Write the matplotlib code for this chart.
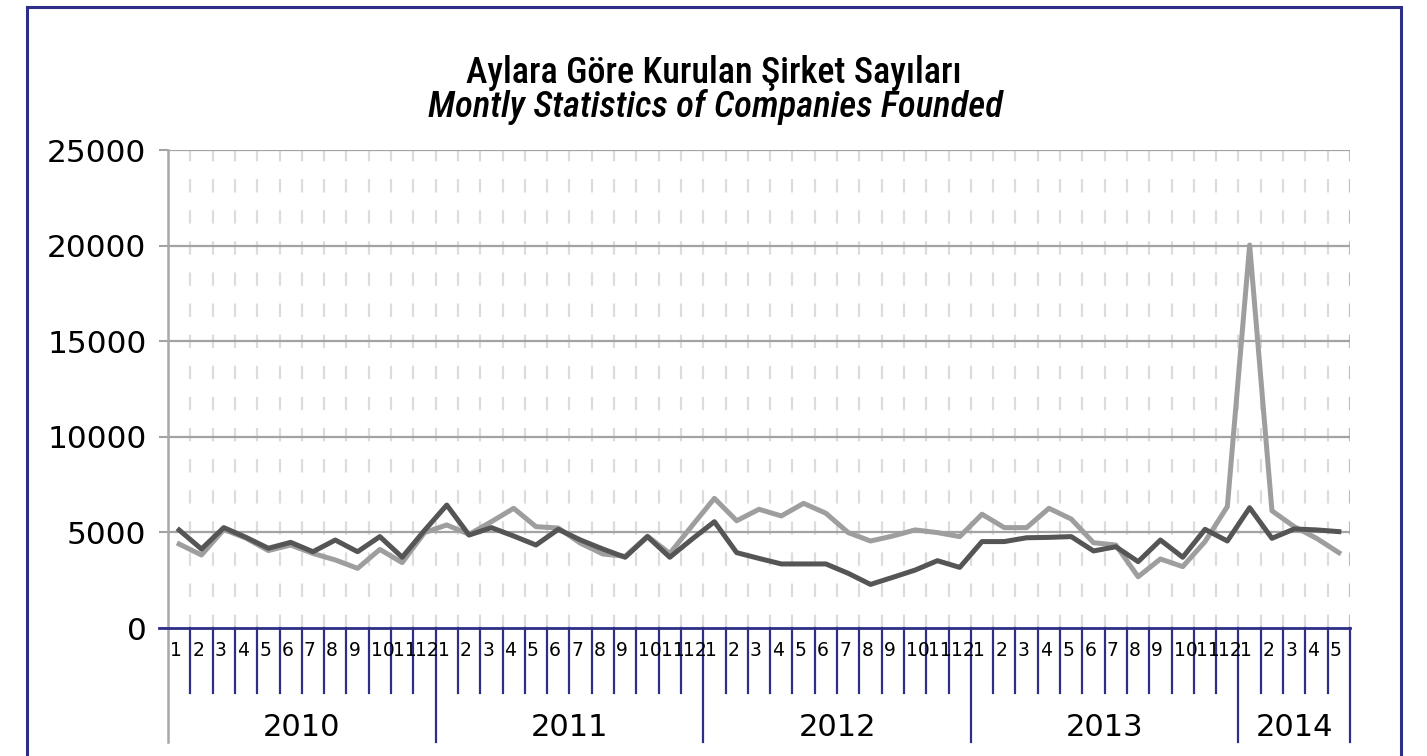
#!/usr/bin/env python3
"""Monthly count of companies founded, 2010 - 2014/5."""
import matplotlib
matplotlib.use("Agg")
import matplotlib.pyplot as plt
import matplotlib.transforms as mtransforms
from matplotlib import font_manager
from matplotlib.patches import Rectangle

years = ["2010", "2011", "2012", "2013", "2014"]
months_per_year = [12, 12, 12, 12, 5]
month_labels = [str(m) for n in months_per_year for m in range(1, n + 1)]

# light grey series
series_light = [
    4390, 3820, 5150, 4700, 4050, 4340, 3900, 3560, 3120, 4110, 3420, 4990,
    5390, 4900, 5560, 6260, 5300, 5230, 4430, 3870, 3750, 4800, 3900, 5350,
    6780, 5610, 6210, 5860, 6520, 6000, 4990, 4550, 4810, 5130, 4990, 4780,
    5950, 5250, 5250, 6260, 5700, 4460, 4340, 2680, 3610, 3210, 4520, 6350,
    20030, 6130, 5300, 4690, 3940,
]
# dark grey series
series_dark = [
    5125, 4130, 5250, 4740, 4170, 4480, 3990, 4600, 3990, 4780, 3700, 5100,
    6430, 4860, 5250, 4810, 4340, 5160, 4600, 4130, 3700, 4780, 3700, 4650,
    5560, 3940, 3640, 3350, 3350, 3350, 2860, 2280, 2650, 3030, 3520, 3170,
    4520, 4520, 4720, 4740, 4780, 4030, 4250, 3470, 4600, 3700, 5160, 4550,
    6290, 4690, 5180, 5130, 5040,
]
yticks = [0, 5000, 10000, 15000, 20000, 25000]

NAVY = "#2e2e88"
names = {f.name for f in font_manager.fontManager.ttflist}
title_font = next((n for n in ["Liberation Sans Narrow", "DejaVu Sans Condensed",
                               "Roboto Condensed", "Open Sans Condensed"]
                   if n in names), "DejaVu Sans")
plt.rcParams["font.family"] = ["DejaVu Sans"]


def main():
    W, H = 1427, 756
    fig = plt.figure(figsize=(W / 100, H / 100), dpi=100)
    x0, x1, ytop, ybot = 168, 1350, 150, 628
    ax = fig.add_axes([x0 / W, (H - ybot) / H, (x1 - x0) / W, (ybot - ytop) / H])
    n = len(month_labels)
    xs = [i + 0.5 for i in range(n)]

    ax.set_xlim(0, n)
    ax.set_ylim(0, 25000)
    for s in ["top", "right", "bottom", "left"]:
        ax.spines[s].set_visible(False)

    # grid
    for b in range(1, n + 1):
        ax.axvline(b, color="#bdbdbd" if b == n else "#dcdcdc", lw=1.6,
                   dashes=(6, 8), zorder=1)
    for y in yticks[1:]:
        ax.axhline(y, color="#a3a3a3", lw=1.6, zorder=1)

    ax.plot(xs, series_light, color="#9e9e9e", lw=3.6, zorder=3)
    ax.plot(xs, series_dark, color="#555555", lw=3.6, zorder=4)

    ax.set_yticks(yticks)
    ax.set_yticklabels([str(v) for v in yticks])
    ax.tick_params(axis="y", length=6.5, width=1.5, color="#a3a3a3", pad=9, labelsize=22.5)
    ax.set_xticks([])

    tr = mtransforms.blended_transform_factory(ax.transData, ax.transAxes)
    ah = ybot - ytop
    kw = dict(transform=tr, clip_on=False)

    # left axis line, running through the label band
    ax.plot([0, 0], [1, -114 / ah], color="#a8a8a8", lw=1.8, zorder=5, **kw)
    # zero line
    ax.plot([-9 / (x1 - x0) * n, n], [0, 0], color=NAVY, lw=2, zorder=5, **kw)

    # month ticks and labels
    bounds = [0]
    for c in months_per_year:
        bounds.append(bounds[-1] + c)
    for b in range(1, n + 1):
        depth = 114 if b in bounds else 65
        ax.plot([b, b], [0, -depth / ah], color=NAVY, lw=1.6, **kw)
    for i, lab in enumerate(month_labels):
        ax.text(i + 0.09, -22 / ah, lab, ha="left", va="center", fontsize=13.5, **kw)
    for yr, a, b in zip(years, bounds[:-1], bounds[1:]):
        ax.text((a + b) / 2, -100 / ah, yr, ha="center", va="center", fontsize=22, **kw)

    fig.text(714 / W, (H - 83) / H, "Aylara Göre Kurulan Şirket Sayıları",
             ha="center", va="baseline", fontsize=26, family=title_font, weight="medium")
    fig.text(715 / W, (H - 117) / H, "Montly Statistics of Companies Founded",
             ha="center", va="baseline", fontsize=26.5, family=title_font, weight="medium",
             style="italic")

    # outer frame
    fig.patches.append(Rectangle((27 / W, -0.1), (1401 - 27) / W, 0.1 + (H - 7) / H,
                                 transform=fig.transFigure, fill=False,
                                 edgecolor=NAVY, lw=2.2))

    fig.savefig("out.png", dpi=100)


if __name__ == "__main__":
    main()
